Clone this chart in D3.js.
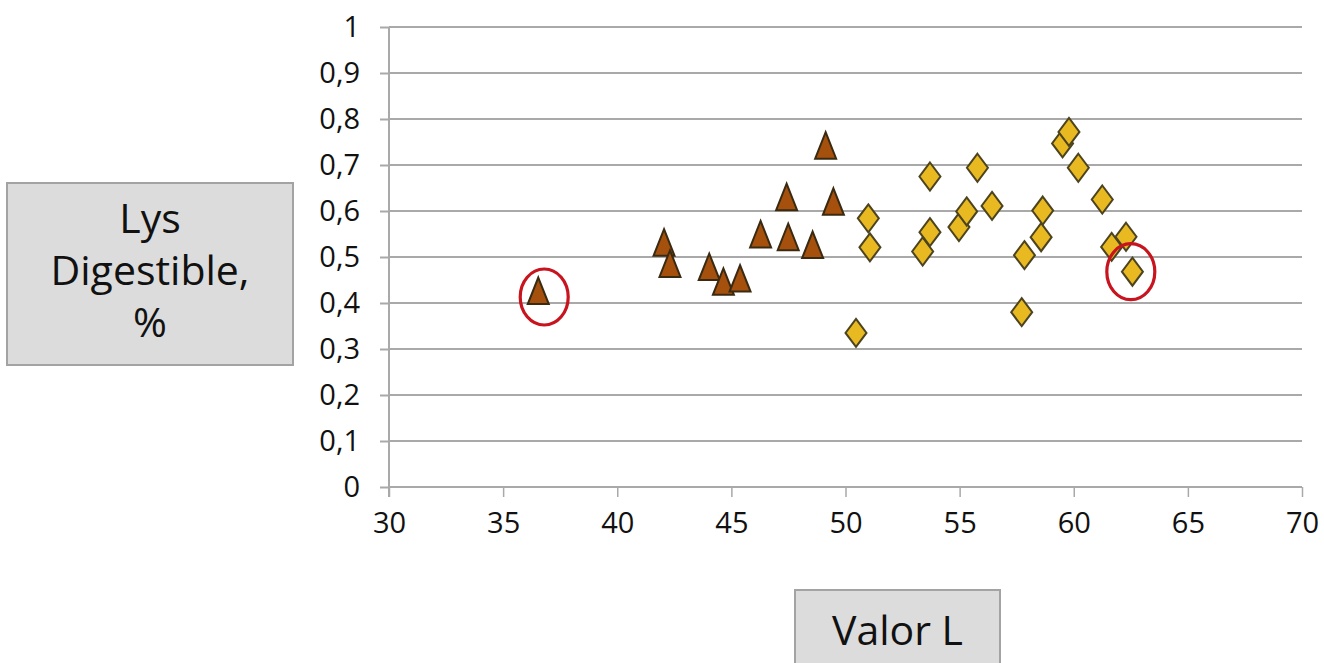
<!DOCTYPE html>
<html>
<head>
<meta charset="utf-8">
<script src="https://cdn.jsdelivr.net/npm/d3@7"></script>
<style>
  html, body { margin: 0; padding: 0; background: #fff; }
  svg { display: block; }
  text { font-family: "Open Sans", "Noto Sans", sans-serif; fill: #111; }
</style>
</head>
<body>
<svg id="chart" width="1324" height="663"></svg>
<script>
// ---- data ----
const xTicks = [30, 35, 40, 45, 50, 55, 60, 65, 70];
const yTicks = [0, 0.1, 0.2, 0.3, 0.4, 0.5, 0.6, 0.7, 0.8, 0.9, 1];
const yTickLabels = ["0", "0,1", "0,2", "0,3", "0,4", "0,5", "0,6", "0,7", "0,8", "0,9", "1"];

const triX = [36.54, 42.05, 42.31, 44.03, 44.65, 45.38, 46.28, 47.42, 47.49, 48.56, 49.13, 49.47];
const triY = [0.426, 0.531, 0.485, 0.478, 0.446, 0.453, 0.549, 0.630, 0.543, 0.526, 0.742, 0.620];

const diaX = [51.00, 51.07, 50.46, 53.70, 53.38, 53.70, 54.97, 55.31, 55.78, 56.42, 57.72, 57.84, 58.57, 58.64, 59.51, 59.79, 60.20, 61.25, 61.66, 62.29, 62.57];
const diaY = [0.584, 0.521, 0.335, 0.675, 0.512, 0.554, 0.565, 0.599, 0.694, 0.611, 0.380, 0.504, 0.543, 0.601, 0.747, 0.772, 0.694, 0.625, 0.522, 0.544, 0.468];

const circledX = [36.8, 62.5];
const circledY = [0.413, 0.468];

const yTitleLines = ["Lys", "Digestible,", "%"];
const xTitle = "Valor L";

// ---- layout ----
const svg = d3.select("#chart");
const x = d3.scaleLinear().domain([30, 70]).range([389, 1302]);
const y = d3.scaleLinear().domain([0, 1]).range([487, 27]);

const gridColor = "#a9a9a9";

// gridlines
svg.append("g").selectAll("line").data(yTicks).join("line")
  .attr("x1", x(30)).attr("x2", x(70))
  .attr("y1", d => y(d)).attr("y2", d => y(d))
  .attr("stroke", gridColor).attr("stroke-width", 2);

// y axis
const yAxis = svg.append("g").attr("transform", `translate(${x(30)},0)`)
  .call(d3.axisLeft(y).tickValues(yTicks).tickSize(9).tickPadding(20)
    .tickFormat((d, i) => yTickLabels[i]));
yAxis.select(".domain").attr("stroke", gridColor).attr("stroke-width", 2)
  .attr("d", `M0,${y(1)}V${y(0) + 10}`);
yAxis.selectAll(".tick line").attr("stroke", gridColor).attr("stroke-width", 2);
yAxis.selectAll(".tick text").style("font-size", "29px").attr("fill", "#111")
  .attr("font-family", "Open Sans");

// x axis
const xAxis = svg.append("g").attr("transform", `translate(0,${y(0)})`)
  .call(d3.axisBottom(x).tickValues(xTicks).tickSize(10).tickPadding(15));
xAxis.select(".domain").attr("stroke", gridColor).attr("stroke-width", 2)
  .attr("d", `M${x(30)},0H${x(70)}`);
xAxis.selectAll(".tick line").attr("stroke", gridColor).attr("stroke-width", 1.5);
xAxis.selectAll(".tick text").style("font-size", "29px").attr("fill", "#111")
  .attr("font-family", "Open Sans");

// triangles
const triPath = "M0,-13.5L10.5,13L-10.5,13Z";
svg.append("g").selectAll("path").data(triX.map((d, i) => [d, triY[i]])).join("path")
  .attr("d", triPath)
  .attr("transform", d => `translate(${x(d[0])},${y(d[1])})`)
  .attr("fill", "#a5500d").attr("stroke", "#3a2a12").attr("stroke-width", 2)
  .attr("stroke-linejoin", "miter");

// diamonds
const diaPath = "M0,-14L10.5,0L0,14L-10.5,0Z";
svg.append("g").selectAll("path").data(diaX.map((d, i) => [d, diaY[i]])).join("path")
  .attr("d", diaPath)
  .attr("transform", d => `translate(${x(d[0])},${y(d[1])})`)
  .attr("fill", "#e8b920").attr("stroke", "#4c4420").attr("stroke-width", 2);

// red circles
svg.append("g").selectAll("ellipse").data(circledX.map((d, i) => [d, circledY[i]])).join("ellipse")
  .attr("cx", d => x(d[0])).attr("cy", d => y(d[1]))
  .attr("rx", 24).attr("ry", 28)
  .attr("fill", "none").attr("stroke", "#c8141e").attr("stroke-width", 3.2);

// y title box
const yBox = svg.append("g");
yBox.append("rect").attr("x", 7).attr("y", 183).attr("width", 286).attr("height", 182)
  .attr("fill", "#dcdcdc").attr("stroke", "#a3a3a3").attr("stroke-width", 2);
yBox.selectAll("text").data(yTitleLines).join("text")
  .attr("x", 150).attr("y", (d, i) => 233 + i * 52)
  .attr("text-anchor", "middle").style("font-size", "41px").text(d => d);

// x title box
const xBox = svg.append("g");
xBox.append("rect").attr("x", 795).attr("y", 590).attr("width", 205).attr("height", 90)
  .attr("fill", "#dcdcdc").attr("stroke", "#a3a3a3").attr("stroke-width", 2);
xBox.append("text").attr("x", 897.5).attr("y", 645)
  .attr("text-anchor", "middle").style("font-size", "41px").text(xTitle);
</script>
</body>
</html>
